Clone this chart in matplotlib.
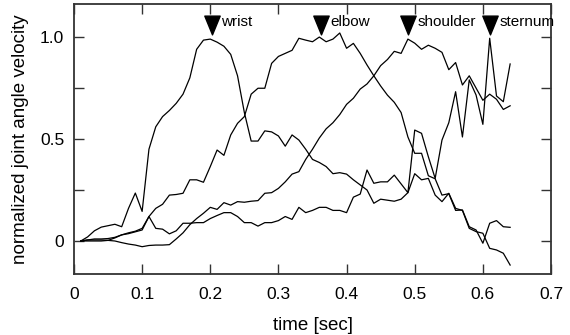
import numpy as np
import matplotlib
matplotlib.use("Agg")
import matplotlib.pyplot as plt
from matplotlib.path import Path

plt.rcParams['font.family'] = ['Liberation Sans', 'DejaVu Sans']

# sample times (s)
time = np.round(np.arange(1, 65) * 0.01, 2)

wrist = [0.00, 0.02, 0.05, 0.068, 0.075, 0.082, 0.07, 0.16, 0.235, 0.145,
         0.45, 0.56, 0.61, 0.64, 0.675, 0.72, 0.80, 0.94, 0.985, 0.99,
         0.975, 0.955, 0.915, 0.81, 0.63, 0.49, 0.49, 0.54, 0.535, 0.515,
         0.465, 0.52, 0.495, 0.45, 0.40, 0.385, 0.365, 0.33, 0.335, 0.328,
         0.30, 0.275, 0.25, 0.185, 0.205, 0.20, 0.195, 0.205, 0.237, 0.33,
         0.30, 0.307, 0.225, 0.193, 0.234, 0.16, 0.15, 0.062, 0.046, 0.038,
         -0.036, -0.044, -0.06, -0.118]

elbow = [0.00, 0.005, 0.01, 0.01, 0.012, 0.018, 0.03, 0.036, 0.045, 0.054,
         0.12, 0.16, 0.18, 0.225, 0.228, 0.234, 0.30, 0.30, 0.288, 0.365,
         0.446, 0.42, 0.52, 0.577, 0.61, 0.72, 0.749, 0.749, 0.871, 0.905,
         0.92, 0.935, 0.994, 0.985, 0.977, 1.00, 0.977, 0.99, 1.02, 0.945,
         0.969, 0.92, 0.863, 0.81, 0.76, 0.715, 0.68, 0.63, 0.51, 0.43,
         0.43, 0.32, 0.305, 0.225, 0.232, 0.15, 0.152, 0.07, 0.054, -0.011,
         0.087, 0.10, 0.07, 0.067]

shoulder = [0.00, 0.005, 0.005, 0.005, 0.003, 0.00, -0.008, -0.015, -0.02, -0.028,
            -0.022, -0.02, -0.02, -0.018, 0.01, 0.04, 0.08, 0.11, 0.136, 0.165,
            0.155, 0.188, 0.176, 0.193, 0.19, 0.195, 0.198, 0.234, 0.237, 0.258,
            0.29, 0.328, 0.34, 0.40, 0.45, 0.505, 0.55, 0.58, 0.62, 0.67,
            0.70, 0.745, 0.77, 0.81, 0.86, 0.89, 0.93, 0.92, 0.99, 0.97,
            0.94, 0.96, 0.945, 0.925, 0.84, 0.875, 0.765, 0.81, 0.75, 0.69,
            0.72, 0.695, 0.645, 0.663]

sternum = [0.00, 0.00, 0.00, 0.00, 0.003, 0.015, 0.03, 0.04, 0.048, 0.062,
           0.12, 0.062, 0.058, 0.035, 0.05, 0.087, 0.087, 0.09, 0.09, 0.11,
           0.125, 0.139, 0.139, 0.12, 0.09, 0.09, 0.073, 0.09, 0.09, 0.10,
           0.12, 0.106, 0.165, 0.139, 0.15, 0.165, 0.165, 0.15, 0.15, 0.139,
           0.215, 0.23, 0.348, 0.283, 0.29, 0.29, 0.323, 0.28, 0.237, 0.544,
           0.528, 0.413, 0.307, 0.495, 0.58, 0.732, 0.51, 0.79, 0.716, 0.572,
           0.994, 0.711, 0.683, 0.868]

# peak markers
peak_names = ['wrist', 'elbow', 'shoulder', 'sternum']
peak_times = [0.2026, 0.363, 0.490, 0.611]
marker_level = 1.06

x_ticks = [0, 0.1, 0.2, 0.3, 0.4, 0.5, 0.6, 0.7]
x_tick_labels = ['0', '0.1', '0.2', '0.3', '0.4', '0.5', '0.6', '0.7']
y_ticks = [0, 0.25, 0.5, 0.75, 1.0]
y_tick_labels = ['0', '', '0.5', '', '1.0']

fig = plt.figure(figsize=(5.7, 3.35), dpi=100)
ax = fig.add_axes([0.1298, 0.182, 0.8369, 0.806])

for series in (wrist, elbow, shoulder, sternum):
    ax.plot(time, series, color='black', lw=0.9)

tri = Path([(-0.41, 0.5), (0.41, 0.5), (0.0, -0.5), (-0.41, 0.5)],
           [Path.MOVETO, Path.LINETO, Path.LINETO, Path.CLOSEPOLY])
ax.plot(peak_times, [marker_level] * len(peak_times), linestyle='none',
        marker=tri, markersize=13.5, color='black', clip_on=False)
for name, t in zip(peak_names, peak_times):
    ax.text(t + 0.0135, marker_level + 0.015, name, fontsize=11,
            ha='left', va='center', clip_on=False)

ax.set_xlim(0, 0.7)
ax.set_ylim(-0.162, 1.162)
ax.set_xticks(x_ticks)
ax.set_xticklabels(x_tick_labels)
ax.set_yticks(y_ticks)
ax.set_yticklabels(y_tick_labels)
ax.tick_params(direction='in', length=7, width=1, top=True, right=True,
               labelsize=12.5, color='#333333')
ax.tick_params(axis='x', pad=9)
ax.tick_params(axis='y', pad=7)
for sp in ax.spines.values():
    sp.set_linewidth(1.3)
    sp.set_color('#333333')

ax.set_xlabel('time [sec]', fontsize=13.5, labelpad=11)
ax.set_ylabel('normalized joint angle velocity', fontsize=13.5, labelpad=8)

fig.savefig('out.png', dpi=100)
